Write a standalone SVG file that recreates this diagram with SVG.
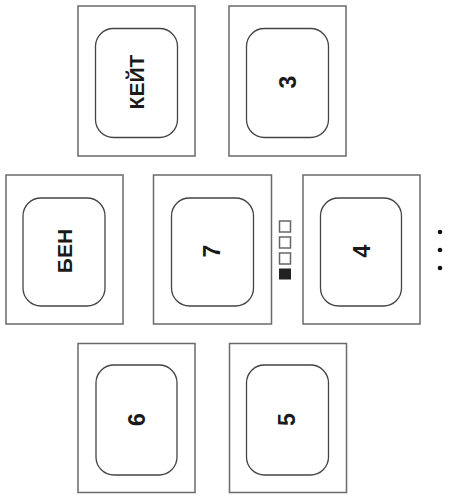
<svg xmlns="http://www.w3.org/2000/svg" width="450" height="503" viewBox="0 0 450 503">
<style>
.outer{fill:#fff;stroke:#6a6a6a;stroke-width:1.5}
.inner{fill:#fff;stroke:#444;stroke-width:1.3}
.lbl{font-family:"Liberation Sans",Arial,sans-serif;font-weight:bold;font-size:21px;fill:#1a1a1a;text-anchor:middle}
.num{font-size:23px}
.sq{fill:#fff;stroke:#666;stroke-width:1.5}
.dot{fill:#111}
</style>
<rect width="450" height="503" fill="#fff"/>
<g id="node-keit">
<rect class="outer" x="78" y="6" width="117" height="150"/>
<rect class="inner" x="95.5" y="28.5" width="82" height="109" rx="18"/>
<text class="lbl" transform="translate(144,82) rotate(-90)">КЕЙТ</text>
</g>
<g id="node-3">
<rect class="outer" x="229" y="6" width="117" height="150"/>
<rect class="inner" x="246.5" y="28.5" width="82" height="109" rx="18"/>
<text class="lbl num" transform="translate(296,82) rotate(-90)">3</text>
</g>
<g id="node-ben">
<rect class="outer" x="6" y="175" width="117" height="149"/>
<rect class="inner" x="23" y="198" width="82" height="108" rx="18"/>
<text class="lbl" transform="translate(71.5,251) rotate(-90)">БЕН</text>
</g>
<g id="node-7">
<rect class="outer" x="153.5" y="175" width="118" height="149"/>
<rect class="inner" x="171.5" y="198" width="82" height="108" rx="18"/>
<text class="lbl num" transform="translate(220,251) rotate(-90)">7</text>
</g>
<g id="node-4">
<rect class="outer" x="303" y="175" width="117" height="149"/>
<rect class="inner" x="320.5" y="198" width="81" height="108" rx="18"/>
<text class="lbl num" transform="translate(369.5,251) rotate(-90)">4</text>
</g>
<g id="node-6">
<rect class="outer" x="78" y="343.5" width="117" height="149"/>
<rect class="inner" x="96" y="365" width="81" height="110" rx="18"/>
<text class="lbl num" transform="translate(145,419.5) rotate(-90)">6</text>
</g>
<g id="node-5">
<rect class="outer" x="229.5" y="343.5" width="117" height="149"/>
<rect class="inner" x="246.5" y="365" width="82" height="110" rx="18"/>
<text class="lbl num" transform="translate(294.5,419.5) rotate(-90)">5</text>
</g>
<g id="indicator">
<rect class="sq" x="279.5" y="221" width="11" height="11"/>
<rect class="sq" x="279.5" y="237" width="11" height="11"/>
<rect class="sq" x="279.5" y="253" width="11" height="11"/>
<rect x="279" y="268.5" width="12" height="11" fill="#222"/>
</g>
<g id="dots">
<circle class="dot" cx="440" cy="232" r="2.3"/>
<circle class="dot" cx="440" cy="250" r="2.3"/>
<circle class="dot" cx="440" cy="268" r="2.3"/>
</g>
<g id="connectors"/>
</svg>
